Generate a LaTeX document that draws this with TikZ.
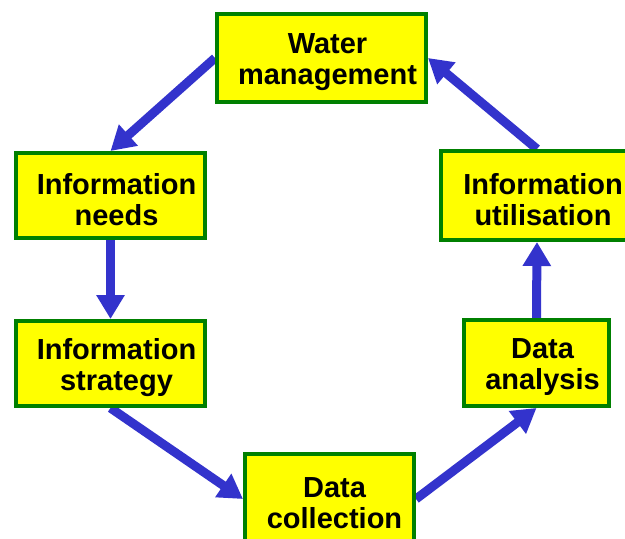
\documentclass[tikz,border=0pt]{standalone}
\usepackage{fontspec}
\setmainfont{Liberation Sans}
\usetikzlibrary{arrows.meta,backgrounds}
\definecolor{boxgreen}{RGB}{0,128,0}
\definecolor{boxyellow}{RGB}{255,255,0}
\definecolor{arrowblue}{RGB}{51,51,204}
\begin{document}
\begin{tikzpicture}[x=1pt,y=-1pt,
  stage/.style={draw=boxgreen, fill=boxyellow, line width=4pt, inner sep=0pt},
  stagetext/.style={inner sep=0pt, align=center, font=\fontsize{29}{31}\selectfont\bfseries},
  flow/.style={draw=arrowblue, line width=9pt,
    -{Triangle[length=24pt,width=27pt]}}]
\useasboundingbox (0,0) rectangle (625,539);
\begin{scope}
\clip (0,0) rectangle (625,539);
\node[stage, minimum width=209pt, minimum height=88pt] (wm) at (321.5,58) {};
\node[stage, minimum width=189pt, minimum height=85pt] (needs) at (110.5,195.5) {};
\node[stage, minimum width=189pt, minimum height=85pt] (strat) at (110.5,363.5) {};
\node[stage, minimum width=169pt, minimum height=90pt] (dc) at (329.5,499) {};
\node[stage, minimum width=145pt, minimum height=86pt] (da) at (536.5,363) {};
\node[stage, minimum width=192pt, minimum height=89pt] (util) at (537,195.5) {};
\node[stagetext] (wmt) at ([shift={(6,4)}]wm.center) {Water\\management};
\node[stagetext] (needst) at ([shift={(6,4)}]needs.center) {Information\\needs};
\node[stagetext] (stratt) at ([shift={(6,4)}]strat.center) {Information\\strategy};
\node[stagetext] (dct) at ([shift={(5,4)}]dc.center) {Data\\collection};
\node[stagetext] (dat) at ([shift={(6,4)}]da.center) {Data\\analysis};
\node[stagetext] (utilt) at ([shift={(6,4)}]util.center) {Information\\utilisation};
\end{scope}
\begin{scope}[on background layer]
\draw[flow] (wm.west) -- (needs.north);
\draw[flow] (needs.south) -- (strat.north);
\draw[flow] (strat.south) -- (dc.west);
\draw[flow] (dc.east) -- (da.south);
\draw[flow] (da.north) -- (util.south);
\draw[flow] (util.north) -- (wm.east);
\end{scope}
\end{tikzpicture}
\end{document}
